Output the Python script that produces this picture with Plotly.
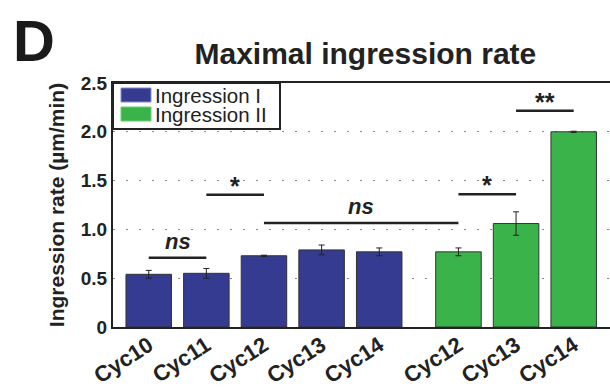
import plotly.graph_objects as go

# ---- data ----
categories_I = ["Cyc10", "Cyc11", "Cyc12", "Cyc13", "Cyc14"]
values_I = [0.54, 0.55, 0.73, 0.79, 0.77]
errors_I = [0.04, 0.05, 0.006, 0.05, 0.04]

categories_II = ["Cyc12", "Cyc13", "Cyc14"]
values_II = [0.77, 1.06, 2.00]
errors_II = [0.04, 0.12, 0.006]

series_names = ["Ingression I", "Ingression II"]

# significance comparisons: (index_a, index_b, height, label) on combined bar order
comparisons = [
    (0, 1, 0.71, "ns"),
    (1, 2, 1.355, "*"),
    (2, 5, 1.065, "ns"),
    (5, 6, 1.36, "*"),
    (6, 7, 2.215, "**"),
]

y_ticks = [0, 0.5, 1.0, 1.5, 2.0, 2.5]
y_ticklabels = ["0", "0.5", "1.0", "1.5", "2.0", "2.5"]

# ---- positions ----
group_gap = 1.375
pos_I = list(range(len(categories_I)))
pos_II = [len(categories_I) - 1 + group_gap + i for i in range(len(categories_II))]
all_pos = pos_I + pos_II

FONT = "Arial, Liberation Sans, Helvetica, sans-serif"
BLUE = "#353B90"
GREEN = "#3AB44A"
INK = "#222222"

W, H = 610, 390
ML, MR, MT, MB = 113, 0, 83, 63
PW, PH = W - ML - MR, H - MT - MB


def px_x(x):
    return (x - ML) / PW


def px_y(y):
    return (H - MB - y) / PH


fig = go.Figure()
fig.add_trace(go.Bar(
    x=pos_I, y=values_I, name=series_names[0], width=0.79,
    marker=dict(color=BLUE, line=dict(color="#333333", width=1)),
    error_y=dict(type="data", array=errors_I, color=INK, thickness=1, width=3),
))
fig.add_trace(go.Bar(
    x=pos_II, y=values_II, name=series_names[1], width=0.79,
    marker=dict(color=GREEN, line=dict(color="#333333", width=1)),
    error_y=dict(type="data", array=errors_II, color=INK, thickness=1, width=3),
))

for a, b, h, lab in comparisons:
    fig.add_shape(type="line", x0=all_pos[a], x1=all_pos[b], y0=h, y1=h,
                  xref="x", yref="y", line=dict(color=INK, width=2.5))
    if lab == "ns":
        fig.add_annotation(x=(all_pos[a] + all_pos[b]) / 2, y=h, yshift=2,
                           text="<b><i>ns</i></b>", showarrow=False,
                           yanchor="bottom", font=dict(size=22, family=FONT, color=INK))
    else:
        fig.add_annotation(x=(all_pos[a] + all_pos[b]) / 2, y=h, yshift=-7,
                           text="<b>" + lab + "</b>", showarrow=False,
                           yanchor="bottom", font=dict(size=25, family=FONT, color=INK))

# custom legend (box + swatches + labels), drawn in paper coordinates
fig.add_shape(type="rect", xref="paper", yref="paper",
              x0=px_x(113), x1=px_x(280), y0=px_y(129), y1=px_y(83),
              fillcolor="white", line=dict(color=INK, width=2), layer="above")
for i, (name, col) in enumerate(zip(series_names, [BLUE, GREEN])):
    top = 88 + i * 19
    fig.add_shape(type="rect", xref="paper", yref="paper",
                  x0=px_x(121), x1=px_x(151), y0=px_y(top + 14), y1=px_y(top),
                  fillcolor=col, line=dict(color="#8888cc" if i == 0 else "#66cc77", width=1),
                  layer="above")
    fig.add_annotation(x=px_x(154), y=px_y(top + 7), xref="paper", yref="paper",
                       xanchor="left", yanchor="middle", text=name, showarrow=False,
                       borderpad=0, font=dict(size=20.5, family=FONT, color=INK))

fig.add_annotation(x=px_x(11), y=px_y(6), xref="paper", yref="paper", xanchor="left", yanchor="top",
                   text="<b>D</b>", showarrow=False,
                   font=dict(size=58, family=FONT, color="#1a1a1a"))

fig.update_layout(
    width=W, height=H,
    margin=dict(l=ML, r=MR, t=MT, b=MB),
    paper_bgcolor="white", plot_bgcolor="white",
    font=dict(family=FONT, color=INK),
    title=dict(text="<b>Maximal ingression rate</b>", x=0.599, xanchor="center",
               y=0.864, yanchor="middle", font=dict(size=30, family=FONT, color=INK)),
    showlegend=False,
)
fig.update_xaxes(
    range=[-0.62, all_pos[-1] + 0.63], automargin=False,
    tickvals=all_pos, ticktext=["<b>" + c + "</b>" for c in categories_I + categories_II],
    tickangle=-33, tickfont=dict(size=22, family=FONT, color=INK), ticklabelstandoff=-5,
    showline=True, linecolor=INK, linewidth=2, mirror=True,
    ticks="", showgrid=False, zeroline=False,
)
fig.update_yaxes(
    range=[0, 2.5], automargin=False,
    tickvals=y_ticks, ticktext=["<b>" + t + "</b>" for t in y_ticklabels],
    tickfont=dict(size=19, family=FONT, color=INK),
    title=dict(text="<b>Ingression rate (µm/min)</b>", font=dict(size=21, family=FONT, color=INK),
               standoff=10),
    showline=True, linecolor=INK, linewidth=2, mirror=True,
    ticks="", showgrid=True, gridcolor="#888888", griddash="2px,11px", gridwidth=1.2,
    zeroline=False,
)

fig.write_html("out.html")
